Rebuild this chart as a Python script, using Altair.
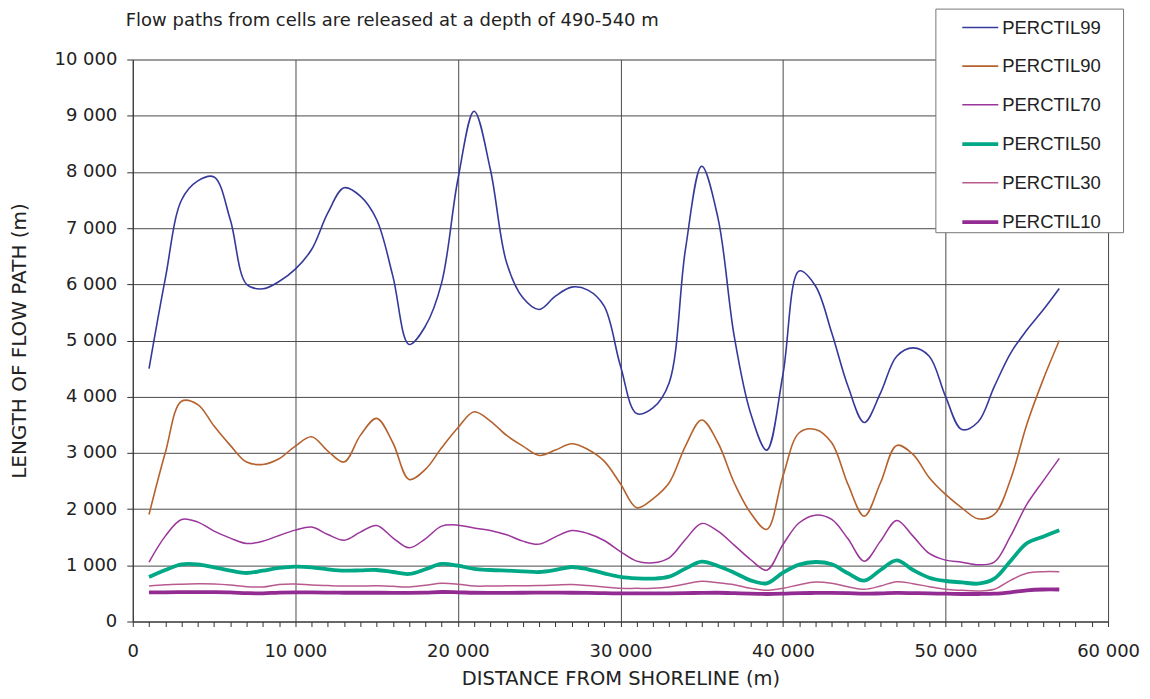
import altair as alt
import pandas as pd

title_text = "Flow paths from cells are released at a depth of 490-540 m"

distance = [1000, 2000, 3000, 4000, 5000, 6000, 7000, 8000, 9000, 10000,
            11000, 12000, 13000, 14000, 15000, 16000, 17000, 18000, 19000, 20000,
            21000, 22000, 23000, 24000, 25000, 26000, 27000, 28000, 29000, 30000,
            31000, 32000, 33000, 34000, 35000, 36000, 37000, 38000, 39000, 40000,
            41000, 42000, 43000, 44000, 45000, 46000, 47000, 48000, 49000, 50000,
            51000, 52000, 53000, 54000, 55000, 56000, 57000]

p99 = [4500, 6100, 7500, 7840, 7910, 7150, 6000, 5920, 6050, 6270,
       6619, 7270, 7717, 7568, 7153, 6145, 4930, 5255, 6026, 7865,
       9080, 8043, 6382, 5759, 5552, 5789, 5950, 5896, 5611, 4550,
       3700, 3800, 4250, 6620, 8100, 7183, 5077, 3715, 3050, 4400,
       6238, 5970, 5137, 4185, 3542, 4065, 4720, 4869, 4720, 4006,
       3417, 3550, 4180, 4772, 5186, 5542, 5927]

p90 = [1905, 3003, 3920, 3860, 3478, 3134, 2837, 2795, 2896, 3122,
       3288, 3033, 2837, 3312, 3614, 3181, 2528, 2706, 3092, 3448,
       3733, 3567, 3312, 3122, 2955, 3050, 3163, 3062, 2855, 2450,
       2024, 2184, 2469, 3122, 3585, 3181, 2469, 1935, 1638, 2588,
       3359, 3418, 3181, 2439, 1875, 2469, 3134, 2973, 2558, 2261,
       2024, 1828, 1905, 2528, 3507, 4300, 5000]

p70 = [1056, 1519, 1816, 1769, 1608, 1484, 1389, 1430, 1531, 1626,
       1680, 1549, 1448, 1591, 1709, 1490, 1312, 1472, 1697, 1715,
       1662, 1620, 1543, 1430, 1377, 1507, 1620, 1567, 1442, 1245,
       1074, 1045, 1134, 1460, 1745, 1608, 1359, 1104, 914, 1371,
       1757, 1893, 1816, 1472, 1074, 1430, 1798, 1519, 1211, 1092,
       1056, 1009, 1056, 1519, 2083, 2499, 2902]

p50 = [792, 917, 1018, 1018, 964, 905, 863, 905, 953, 976,
       964, 929, 905, 911, 917, 881, 846, 929, 1024, 994,
       935, 917, 905, 893, 881, 917, 970, 929, 858, 795,
       769, 763, 798, 941, 1065, 988, 869, 733, 680, 869,
       1012, 1059, 1018, 858, 727, 917, 1089, 917, 780, 721,
       697, 674, 763, 1077, 1392, 1510, 1623]

p30 = [632, 655, 665, 670, 668, 650, 620, 615, 660, 668,
       650, 640, 632, 632, 635, 626, 615, 645, 680, 665,
       632, 632, 635, 638, 640, 650, 660, 640, 615, 590,
       590, 590, 614, 668, 715, 691, 656, 590, 555, 590,
       656, 703, 680, 620, 573, 632, 709, 674, 620, 573,
       555, 543, 573, 733, 858, 887, 887]

p10 = [520, 520, 522, 522, 522, 518, 505, 500, 515, 520,
       518, 515, 512, 512, 512, 510, 510, 515, 525, 520,
       512, 510, 510, 512, 515, 515, 512, 510, 505, 500,
       500, 500, 502, 505, 510, 512, 505, 495, 490, 495,
       505, 508, 510, 505, 495, 500, 508, 505, 500, 495,
       490, 490, 495, 520, 555, 570, 570]

series_names = ["PERCTIL99", "PERCTIL90", "PERCTIL70", "PERCTIL50", "PERCTIL30", "PERCTIL10"]
series_values = [p99, p90, p70, p50, p30, p10]
series_colors = ["#35399A", "#B5622E", "#9A359B", "#00A886", "#B95A8E", "#922C93"]
series_widths = [1.6, 1.6, 1.5, 3.8, 1.5, 3.8]

x_ticks = list(range(0, 60001, 1000))
y_ticks = list(range(0, 10001, 1000))

rows = []
for idx, (name, vals) in enumerate(zip(series_names, series_values)):
    for d, v in zip(distance, vals):
        rows.append({"distance": d, "length": v, "series": name, "ord": idx})
df = pd.DataFrame(rows)

axis_font = "DejaVu Sans"
legend_font = "Liberation Sans"
sep_expr = "replace(format(datum.value, ','), ',', ' ')"

legend = alt.Legend(
    title="P", titleOrient="right", titleOpacity=0, titleFontSize=12, titlePadding=13,
    orient="none", legendX=804, legendY=-51, direction="vertical",
    symbolType="stroke", symbolSize=1296, labelFont=legend_font, labelFontSize=18.5,
    labelColor="#222222", strokeColor="#777777", fillColor="white", padding=0,
    symbolOffset=25, rowPadding=9.6, labelOffset=2,
)

lines = alt.Chart(df).mark_line(interpolate="catmull-rom").encode(
    x=alt.X("distance:Q",
            scale=alt.Scale(domain=[0, 60000], nice=False),
            axis=alt.Axis(
                values=x_ticks,
                title="DISTANCE FROM SHORELINE (m)",
                labelExpr="datum.value % 10000 === 0 ? " + sep_expr + " : ''",
                labelOverlap=False, labelFlush=False,
                grid=True,
                gridOpacity={"condition": {"test": "datum.value % 10000 === 0", "value": 1}, "value": 0},
                gridColor="#4a4a4a", gridWidth=1,
                tickSize=5, tickColor="#333333", domainColor="#333333",
                labelFont=axis_font, labelFontSize=18, labelColor="#222222", labelPadding=16,
                titleFont=axis_font, titleFontSize=19.5, titleFontWeight="normal",
                titleColor="#222222", titlePadding=9,
            )),
    y=alt.Y("length:Q",
            scale=alt.Scale(domain=[0, 10000], nice=False),
            axis=alt.Axis(
                values=y_ticks,
                title="LENGTH OF FLOW PATH (m)",
                labelExpr=sep_expr,
                grid=True, gridColor="#4a4a4a", gridWidth=1,
                tickSize=6, tickColor="#333333", domainColor="#333333",
                labelFont=axis_font, labelFontSize=18, labelColor="#222222", labelPadding=10,
                titleFont=axis_font, titleFontSize=20, titleFontWeight="normal",
                titleColor="#222222", titlePadding=24,
            )),
    color=alt.Color("series:O", scale=alt.Scale(type="ordinal", domain=series_names, range=series_colors),
                    legend=legend),
    strokeWidth=alt.StrokeWidth("series:O",
                                scale=alt.Scale(type="ordinal", domain=series_names, range=series_widths),
                                legend=legend),
    detail="series:N",
)

title_layer = alt.Chart(pd.DataFrame({"t": [title_text]})).mark_text(
    align="left", baseline="alphabetic", font=axis_font, fontSize=18, color="#222222"
).encode(
    text="t:N", x=alt.value(-7), y=alt.value(-34)
)

chart = alt.layer(lines, title_layer).properties(
    width=977, height=563,
    autosize=alt.AutoSizeParams(type="none"),
    padding={"left": 125, "top": 51, "right": 34, "bottom": 68},
).configure_view(stroke=None).configure(background="white")

chart.save("out.html", embed_options={"renderer": "svg", "actions": False})
